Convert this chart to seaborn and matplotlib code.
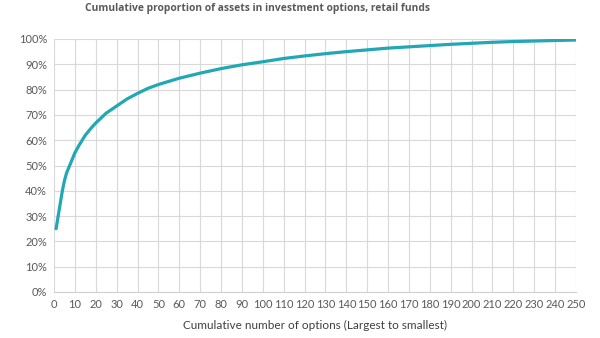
import matplotlib
matplotlib.use("Agg")
import matplotlib.pyplot as plt
import seaborn as sns
import pandas as pd
from matplotlib.ticker import FuncFormatter

options = [1, 2, 3, 4, 5, 6, 8, 10, 12, 15, 18, 20, 25, 30, 35, 40, 45, 50, 60, 70,
           80, 90, 100, 110, 120, 130, 140, 150, 160, 170, 180, 190, 200, 210, 220,
           230, 240, 250]
cum_share = [25, 30, 35, 40, 44, 47, 51, 55, 58, 62, 65, 66.8, 70.7, 73.5, 76.3, 78.5,
             80.5, 82, 84.5, 86.5, 88.3, 89.8, 91, 92.3, 93.3, 94.2, 95, 95.7, 96.4,
             96.9, 97.4, 97.9, 98.3, 98.7, 99.0, 99.2, 99.4, 99.6]
x_ticks = list(range(0, 251, 10))
y_ticks = list(range(0, 101, 10))

title = "Cumulative proportion of assets in investment options, retail funds"
xlabel = "Cumulative number of options (Largest to smallest)"

df = pd.DataFrame({"options": options, "share": cum_share})

sns.set_theme(style="white")
plt.rcParams['font.family'] = ['Lato', 'DejaVu Sans']

fig = plt.figure(figsize=(6, 3.38), dpi=100)
ax = fig.add_axes([54/600, 1-292/338, (576-54)/600, (292-39)/338])

sns.lineplot(data=df, x="options", y="share", ax=ax, color="#22a7b4", linewidth=2.3)

ax.set_xlim(0, 250)
ax.set_ylim(0, 100)
ax.set_xticks(x_ticks)
ax.set_yticks(y_ticks)
ax.yaxis.set_major_formatter(FuncFormatter(lambda v, p: f"{int(v)}%"))
ax.grid(True, color="#d9d9d9", linewidth=0.8)
ax.set_axisbelow(True)
for s in ["top", "right", "left"]:
    ax.spines[s].set_visible(False)
ax.spines["bottom"].set_color("#d0d0d0")
ax.spines["bottom"].set_linewidth(0.8)
ax.tick_params(axis="both", length=0, labelsize=8, colors="#595959", pad=5)
ax.set_xlabel(xlabel, fontsize=8.5, color="#404040", labelpad=7)
ax.set_ylabel("")

fig.text(85/600, 1-9/338, title, ha="left", va="center", fontsize=7.4,
         fontweight="bold", color="#5a5a5a", family=['Open Sans', 'DejaVu Sans'])

fig.savefig("out.png", dpi=100)
